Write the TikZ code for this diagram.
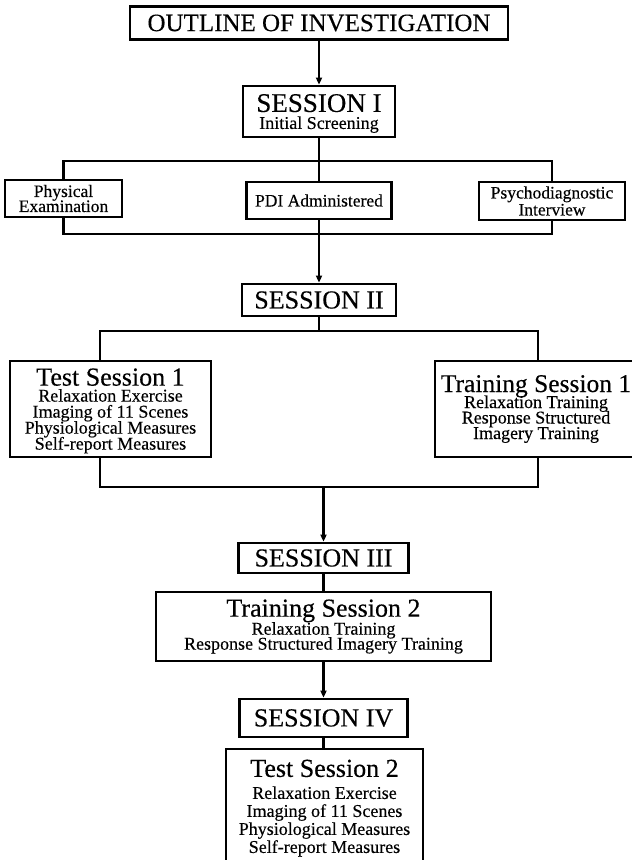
\documentclass[tikz,border=0pt]{standalone}
\usepackage{fontspec}
\setmainfont{Liberation Serif}[FakeBold=0.3]
\usetikzlibrary{arrows.meta,calc}
\newcommand{\fsz}[2]{\fontsize{#1}{#2}\selectfont\lineskiplimit=-30pt\lineskip=0pt\relax}
\begin{document}
\begin{tikzpicture}[x=1pt,y=-1pt,
  box/.style={draw,line width=2.8pt,inner sep=0pt,align=center},
  conn/.style={line width=2.5pt},
  arr/.style={line width=2.5pt,-{Triangle[length=7pt,width=6pt]}},
  big/.style={font=\fsz{26}{26}},
  small/.style={font=\fsz{17.5}{15}}
]
\useasboundingbox (0,0) rectangle (632,860);
\clip (0,0) rectangle (632,860);

% boxes
\node[box,minimum width=378pt,minimum height=33pt,font=\fsz{25}{25}] (out) at (319,23) {OUTLINE OF INVESTIGATION};
\node[box,minimum width=152pt,minimum height=51pt,font=\fsz{18}{17}] (s1) at (319,111.5)
  {{\fsz{27}{20}SESSION I}\\\smash{Initial Screening}};
\node[box,small,minimum width=117pt,minimum height=37pt] (phys) at (63.5,198.5) {Physical\\Examination};
\node[box,small,minimum width=145pt,minimum height=37pt] (pdi) at (319,200.5) {PDI Administered};
\node[box,minimum width=146pt,minimum height=38pt,font=\fsz{17.5}{17}] (psy) at (552,201) {Psychodiagnostic\\Interview};

\node[box,big,minimum width=154pt,minimum height=32pt] (s2) at (319,300) {SESSION II};

\node[box,minimum width=201pt,minimum height=96pt,font=\fsz{18}{16}] (t1) at (110.5,409)
  {{\fsz{26}{16}Test Session 1}\\Relaxation Exercise\\Imaging of 11 Scenes\\Physiological Measures\\\smash{Self-report Measures}};
\node[box,minimum width=202pt,minimum height=96pt,font=\fsz{18}{15.5}] (tr1) at (536,409)
  {{\fsz{25.5}{17}Training Session 1}\\[0.5pt]Relaxation Training\\Response Structured\\Imagery Training};

\node[box,big,minimum width=170pt,minimum height=30pt] (s3) at (323.5,558) {SESSION III};
\node[box,minimum width=335pt,minimum height=69pt,font=\fsz{18}{15}] (tr2) at (323.5,626.5)
  {{\fsz{26}{18}Training Session 2}\\[3pt]Relaxation Training\\Response Structured Imagery Training};
\node[box,big,minimum width=168pt,minimum height=38pt] (s4) at (323.5,718) {SESSION IV};
\node[box,minimum width=197pt,minimum height=118.4pt,font=\fsz{18}{18}] (t2) at (324.5,808.2)
  {{\fsz{26}{22}Test Session 2}\\[4pt]Relaxation Exercise\\Imaging of 11 Scenes\\Physiological Measures\\Self-report Measures};

% junction points
\coordinate (h1) at (319,161);
\coordinate (h2) at (319,234);
\coordinate (h3) at (319,331);
\coordinate (h3l) at (100,331);
\coordinate (h3r) at (538,331);
\coordinate (h4) at (323.5,487);
\coordinate (h4l) at (100,487);
\coordinate (h4r) at (538,487);

% connectors
\draw[arr] (out.south) -- (s1.north);
\draw[conn] (s1.south) -- (pdi.north);
\draw[conn] (phys.north) -- (phys.north |- h1) -- (psy.north |- h1) -- (psy.north);
\draw[conn] (phys.south) -- (phys.south |- h2) -- (psy.south |- h2) -- (psy.south);
\draw[conn] (pdi.south) -- (h2);
\draw[arr] (h2) -- (s2.north);
\draw[conn] (s2.south) -- (h3);
\draw[conn] (t1.north -| h3l) -- (h3l) -- (h3r) -- (tr1.north -| h3r);
\draw[conn] (t1.south -| h4l) -- (h4l) -- (h4r) -- (tr1.south -| h4r);
\draw[arr] (h4) -- (s3.north);
\draw[conn] (s3.south) -- (tr2.north);
\draw[arr] (tr2.south) -- (s4.north);
\draw[conn] (s4.south) -- (s4.south |- t2.north);
\end{tikzpicture}
\end{document}
